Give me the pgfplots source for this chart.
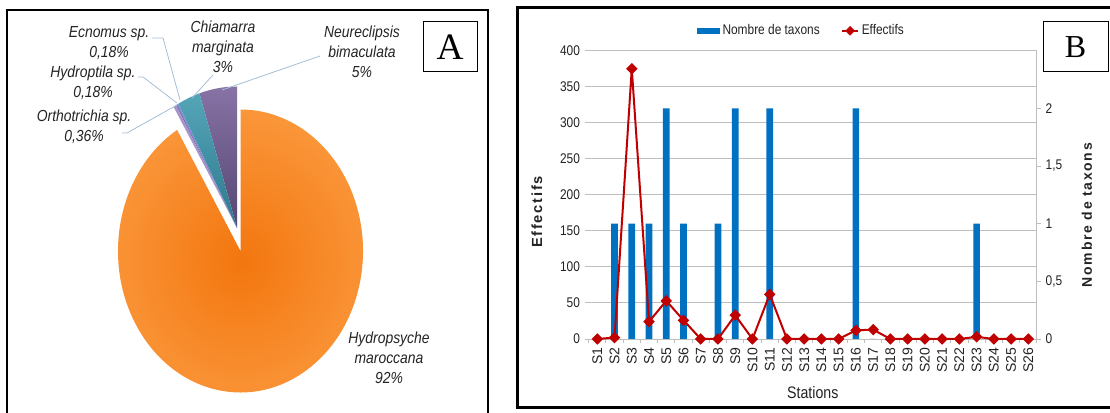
\documentclass[border=0pt]{standalone}
\usepackage{fontspec}
\setmainfont{Liberation Sans}
\newfontfamily\narrowfont{Liberation Sans}[FakeStretch=0.85]
\newfontfamily\piefont{Liberation Sans}[FakeStretch=0.87]
\newfontfamily\seriffont{Liberation Serif}
\newfontfamily\spacedfont{Liberation Sans}[LetterSpace=12]
\usepackage{pgfplots}
\usepackage{pgfplotstable}
\pgfplotsset{compat=1.18}

\definecolor{barblue}{RGB}{0,112,192}
\definecolor{linered}{RGB}{192,0,0}
\definecolor{gridgray}{RGB}{190,190,190}
\definecolor{txt}{RGB}{35,35,35}
\definecolor{leader}{RGB}{165,190,215}
\definecolor{orA}{RGB}{243,118,14}
\definecolor{orB}{RGB}{250,150,58}
\definecolor{puA}{RGB}{135,115,165}
\definecolor{puB}{RGB}{85,70,115}
\definecolor{teA}{RGB}{85,165,185}
\definecolor{teB}{RGB}{45,120,140}
\definecolor{ecn}{RGB}{110,150,205}
\definecolor{hyd}{RGB}{140,105,190}
\definecolor{ort}{RGB}{165,150,200}

\pgfplotstableread{
st taxa eff
1 0 0
2 1 2
3 1 375
4 1 24
5 2 53
6 1 26
7 0 0
8 1 0
9 2 33
10 0 0
11 2 62
12 0 0
13 0 0
14 0 0
15 0 0
16 2 12
17 0 13
18 0 0
19 0 0
20 0 0
21 0 0
22 0 0
23 1 3
24 0 0
25 0 0
26 0 0
}\stations

\pgfplotsset{Bgeom/.style={at={(441.5pt,55.5pt)}, anchor=south west,
  scale only axis, width=336.2pt, height=216.2pt, xmin=0.5, xmax=26.5}}

\begin{document}
\begin{tikzpicture}[x=0.75pt,y=0.75pt]
\path[use as bounding box] (0,0) rectangle (1110,413);

% ---------------- Panel A : pie ----------------
\xdef\curang{90}
\foreach \v/\ca/\cb in {5/puA/puB, 3/teA/teB, 0.18/ecn/ecn, 0.18/hyd/hyd, 0.36/ort/ort}{
  \pgfmathsetmacro\nextang{\curang+\v/100.72*360}
  \shade[top color=\ca, bottom color=\cb] (237,185) -- ++(\curang:122.5 and 141.5)
     arc[start angle=\curang, end angle=\nextang, x radius=122.5, y radius=141.5] -- cycle;
  \xdef\curang{\nextang}
}
\shade[inner color=orA, outer color=orB] (240.5,162) -- ++(\curang:122.5 and 141.5)
   arc[start angle=\curang, end angle=450, x radius=122.5, y radius=141.5] -- cycle;

% leader lines
\draw[leader, line width=0.6pt] (320,357) -- (222,323);
\draw[leader, line width=0.6pt] (213,338) -- (192,315);
\draw[leader, line width=0.6pt] (152,375) -- (163,375) -- (180,313);
\draw[leader, line width=0.6pt] (138,336) -- (143,336) -- (177,310);
\draw[leader, line width=0.6pt] (122,280) -- (127,280) -- (177,308);

\tikzset{piel/.style={align=center, inner sep=0pt, text=txt,
  font=\piefont\itshape\fontsize{12}{15}\selectfont}}
\node[piel] at (109,370) {Ecnomus sp.\\0,18\%};
\node[piel] at (93,330.5) {Hydroptila sp.\\0,18\%};
\node[piel] at (84,286.5) {Orthotrichia sp.\\0,36\%};
\node[piel] at (223,366) {Chiamarra\\marginata\\3\%};
\node[piel] at (362,361.5) {Neureclipsis\\bimaculata\\5\%};
\node[piel] at (389,55) {Hydropsyche\\maroccana\\92\%};

\draw[line width=1.5pt] (7,-10) rectangle (488,402.5);
\draw[line width=0.75pt] (423,341) rectangle (477,391);
\node[font=\seriffont\fontsize{28}{30}\selectfont, inner sep=0pt] at (450,366) {A};

% ---------------- Panel B ----------------
\begin{axis}[Bgeom, ymin=0, ymax=400,
  axis line style={draw=none},
  ytick={0,50,...,400}, ymajorgrids, grid style={gridgray, line width=0.7pt},
  ytick pos=left, xtick pos=bottom, tick align=outside,
  major tick length=3pt,
  tick style={gridgray, line width=0.7pt},
  xtick={0.5,1.5,...,26.5}, xticklabels={},
  extra x ticks={1,2,...,26},
  extra x tick labels={S1,S2,S3,S4,S5,S6,S7,S8,S9,S10,S11,S12,S13,S14,S15,S16,S17,S18,S19,S20,S21,S22,S23,S24,S25,S26},
  extra x tick style={tick style={draw=none}},
  yticklabel style={font=\narrowfont\fontsize{10.5}{12}\selectfont, text=txt},
  xticklabel style={font=\fontsize{10.5}{12}\selectfont, text=txt, rotate=90, anchor=east},
  /pgf/number format/assume math mode=true,
  xlabel={Stations},
  xlabel style={font=\narrowfont\fontsize{12.5}{14}\selectfont, text=txt,
     at={(axis description cs:0.5,-0.1873)}, anchor=center},
  ylabel={\spacedfont\bfseries Effectifs},
  ylabel style={font=\fontsize{11}{13}\selectfont, text=txt,
     at={(axis description cs:-0.1153,0.4405)}, anchor=center},
]
\end{axis}

\begin{axis}[Bgeom, ymin=0, ymax=2.5,
  axis x line=none, axis y line*=right,
  y axis line style={gridgray, line width=0.7pt, -},
  ytick={0,0.5,1,1.5,2}, yticklabels={0,{0,5},1,{1,5},2},
  tick align=outside, major tick length=3pt,
  tick style={gridgray, line width=0.7pt},
  yticklabel style={font=\narrowfont\fontsize{10.5}{12}\selectfont, text=txt},
  ylabel={\spacedfont\bfseries Nombre de taxons},
  ylabel style={font=\fontsize{10.5}{13}\selectfont, text=txt,
     at={(axis description cs:1.1115,0.43)}, anchor=center, rotate=0},
]
\addplot[ybar, bar width=5pt, fill=barblue, draw=none] table[x=st,y=taxa]{\stations};
\end{axis}

\begin{axis}[Bgeom, ymin=0, ymax=400, hide axis, clip=false,
  legend columns=2,
  legend style={draw=none, fill=none, at={(0.475,1.069)}, anchor=center,
     font=\narrowfont\fontsize{10.5}{12}\selectfont, text=txt,
     /tikz/every even column/.append style={column sep=14pt}},
]
\addlegendimage{legend image code/.code={\fill[barblue] (0pt,-2pt) rectangle (17pt,2pt);}}
\addlegendentry{Nombre de taxons}
\addlegendimage{legend image code/.code={\draw[linered, line width=1.5pt] (0pt,0pt) -- (12pt,0pt);
   \fill[linered] (6pt,3.3pt) -- (9.3pt,0pt) -- (6pt,-3.3pt) -- (2.7pt,0pt) -- cycle;}}
\addlegendentry{Effectifs}
\addplot[linered, line width=1.5pt, mark=square*, mark size=2.3pt,
  mark options={rotate=45, solid}, forget plot] table[x=st,y=eff]{\stations};
\end{axis}

\draw[line width=2.25pt] (517,5) rectangle (1116,405);
\draw[line width=0.75pt] (1043,341) rectangle (1108,391);
\node[font=\seriffont\fontsize{24}{26}\selectfont, inner sep=0pt] at (1075.5,366) {B};
\end{tikzpicture}
\end{document}
